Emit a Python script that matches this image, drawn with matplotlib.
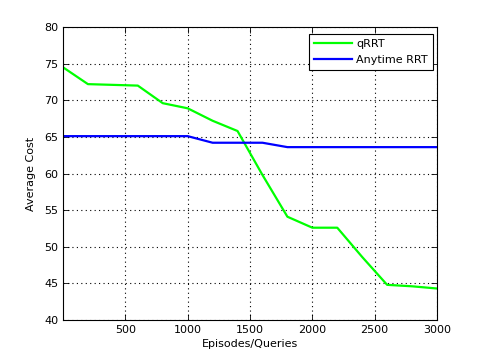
import matplotlib
matplotlib.use("Agg")
import matplotlib.pyplot as plt

# DATA
episodes = [0, 200, 400, 600, 800, 1000, 1200, 1400, 1600, 1800,
            2000, 2200, 2400, 2600, 2800, 3000]
qrrt_cost = [74.5, 72.2, 72.1, 72.0, 69.6, 68.9, 67.2, 65.8, 59.8, 54.1,
             52.6, 52.6, 48.6, 44.8, 44.6, 44.3]
anytime_cost = [65.1, 65.1, 65.1, 65.1, 65.1, 65.1, 64.2, 64.2, 64.2, 63.6,
                63.6, 63.6, 63.6, 63.6, 63.6, 63.6]
xticks = [500, 1000, 1500, 2000, 2500, 3000]
yticks = [40, 45, 50, 55, 60, 65, 70, 75, 80]

plt.rcParams["font.family"] = "DejaVu Sans"
plt.rcParams["font.size"] = 8

fig = plt.figure(figsize=(4.83, 3.6), dpi=100)
ax = fig.add_axes([63 / 483, 1 - 320 / 360, 374 / 483, 293 / 360])

ax.plot(episodes, qrrt_cost, color="#00ff00", linewidth=1.6, label="qRRT")
ax.plot(episodes, anytime_cost, color="#0000ff", linewidth=1.6,
        label="Anytime RRT")

ax.set_xlim(0, 3000)
ax.set_ylim(40, 80)
ax.set_xticks(xticks)
ax.set_yticks(yticks)

ax.grid(True, color="black", linestyle=(0, (1, 3)), linewidth=0.8)
ax.tick_params(direction="in", top=True, right=True, length=4,
               width=0.6, labelsize=8)
for s in ax.spines.values():
    s.set_linewidth(0.8)

ax.set_xlabel("Episodes/Queries", fontsize=8, labelpad=3)
ax.set_ylabel("Average Cost", fontsize=8, labelpad=6)

leg = ax.legend(loc="upper right", fancybox=False, framealpha=1,
                edgecolor="black", fontsize=8, handlelength=3.4,
                handletextpad=0.4, borderpad=0.45, borderaxespad=0,
                bbox_to_anchor=(0.989, 0.976))
leg.get_frame().set_linewidth(0.8)

fig.savefig("out.png", dpi=100)
